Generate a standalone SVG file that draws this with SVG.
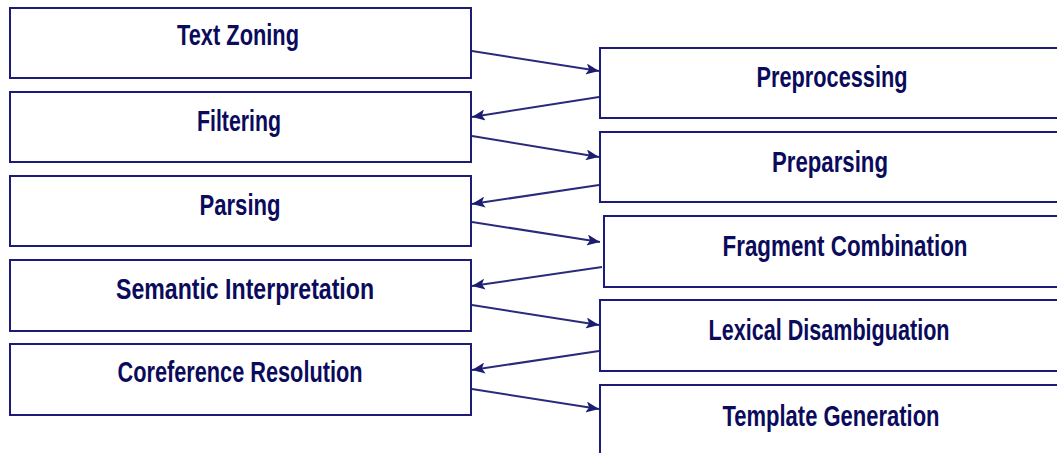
<svg xmlns="http://www.w3.org/2000/svg" width="1057" height="453" viewBox="0 0 1057 453">
<style>
.box{fill:#ffffff;stroke:#1c1c78;stroke-width:2}
.lbl{font-family:"Liberation Sans",Arial,sans-serif;font-weight:bold;font-size:29px;fill:#0b0b5c;text-anchor:middle}
.con{stroke:#2a2a7c;stroke-width:2;fill:none;marker-end:url(#ah)}
</style>
<defs>
<marker id="ah" markerUnits="userSpaceOnUse" viewBox="0 0 13 11" refX="13" refY="5.5" markerWidth="13" markerHeight="11" orient="auto">
<path d="M0,0 L13,5.5 L0,11 L3,5.5 Z" fill="#1c1c70"/>
</marker>
</defs>
<rect width="1057" height="453" fill="#ffffff"/>
<g id="text-zoning"><rect class="box" x="10" y="8" width="461" height="70"/><text class="lbl" x="238" y="45" textLength="122" lengthAdjust="spacingAndGlyphs">Text Zoning</text></g>
<g id="filtering"><rect class="box" x="10" y="92" width="461" height="70"/><text class="lbl" x="239" y="131" textLength="84" lengthAdjust="spacingAndGlyphs">Filtering</text></g>
<g id="parsing"><rect class="box" x="10" y="176" width="461" height="70"/><text class="lbl" x="240" y="215" textLength="81" lengthAdjust="spacingAndGlyphs">Parsing</text></g>
<g id="semantic-interpretation"><rect class="box" x="10" y="260" width="461" height="71"/><text class="lbl" x="245" y="299" textLength="258" lengthAdjust="spacingAndGlyphs">Semantic Interpretation</text></g>
<g id="coreference-resolution"><rect class="box" x="10" y="344" width="461" height="71"/><text class="lbl" x="240" y="382" textLength="245" lengthAdjust="spacingAndGlyphs">Coreference Resolution</text></g>
<g id="preprocessing"><rect class="box" x="600" y="48" width="470" height="70"/><text class="lbl" x="832" y="87" textLength="151" lengthAdjust="spacingAndGlyphs">Preprocessing</text></g>
<g id="preparsing"><rect class="box" x="600" y="132" width="470" height="70"/><text class="lbl" x="830" y="172" textLength="116" lengthAdjust="spacingAndGlyphs">Preparsing</text></g>
<g id="fragment-combination"><rect class="box" x="604" y="216" width="470" height="71"/><text class="lbl" x="845" y="256" textLength="245" lengthAdjust="spacingAndGlyphs">Fragment Combination</text></g>
<g id="lexical-disambiguation"><rect class="box" x="600" y="300" width="470" height="71"/><text class="lbl" x="829" y="340" textLength="241" lengthAdjust="spacingAndGlyphs">Lexical Disambiguation</text></g>
<g id="template-generation"><rect class="box" x="600" y="385" width="470" height="80"/><text class="lbl" x="831" y="426" textLength="217" lengthAdjust="spacingAndGlyphs">Template Generation</text></g>
<g id="connectors">
<line class="con" x1="472" y1="51" x2="599" y2="71"/>
<line class="con" x1="599" y1="97" x2="472" y2="117"/>
<line class="con" x1="472" y1="136" x2="599" y2="157"/>
<line class="con" x1="599" y1="185" x2="472" y2="204"/>
<line class="con" x1="472" y1="222" x2="600" y2="242"/>
<line class="con" x1="602" y1="267" x2="472" y2="286"/>
<line class="con" x1="472" y1="305" x2="599" y2="325"/>
<line class="con" x1="599" y1="351" x2="472" y2="370"/>
<line class="con" x1="472" y1="389" x2="599" y2="409"/>
</g>
</svg>
